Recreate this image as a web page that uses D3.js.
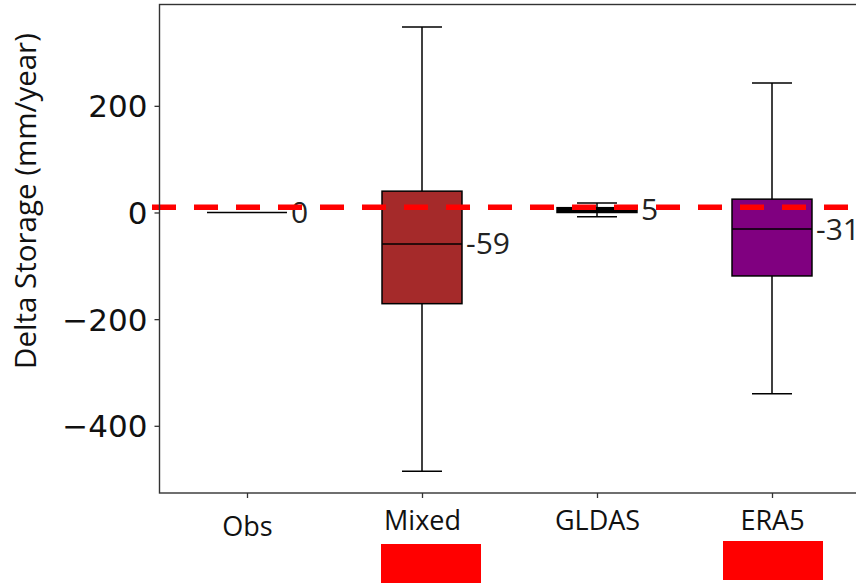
<!DOCTYPE html>
<html>
<head>
<meta charset="utf-8">
<script src="https://cdn.jsdelivr.net/npm/d3@7"></script>
<style>
  html, body { margin: 0; padding: 0; background: #fff; overflow: hidden; }
  svg { display: block; }
</style>
</head>
<body>
<svg id="chart" width="856" height="584"></svg>
<script>
// ---- data ----
const categories   = ["Obs", "Mixed", "GLDAS", "ERA5"];
const whiskerLow   = [0, -485, -8, -340];
const q1           = [0, -171, 0, -119];
const median       = [0, -59, 5, -31];
const q3           = [0, 40, 9, 25];
const whiskerHigh  = [0, 348, 18, 243];
const medianLabels = ["0", "-59", "5", "-31"];
const boxColors    = ["#ffffff", "#a52a2a", "#000000", "#800080"];
const yTicks       = [-400, -200, 0, 200];
const refLineValue = 10;
const yLabel       = "Delta Storage (mm/year)";
const maskedCats   = ["Mixed", "ERA5"];

// ---- layout ----
const svg = d3.select("#chart");
const plot = { left: 159.5, right: 859.5, top: 4.5, bottom: 493 };

const x = d3.scaleLinear().domain([0.5, 4.5]).range([plot.left, plot.right]);
const y = d3.scaleLinear().domain([-526, 390]).range([plot.bottom, plot.top]);
const boxW = 0.457;     // in x-data units
const capW = boxW / 2;

const g = svg.append("g");

// boxes
categories.forEach((c, i) => {
  const cx = x(i + 1);
  const x0 = x(i + 1 - boxW / 2), x1 = x(i + 1 + boxW / 2);
  const c0 = x(i + 1 - capW / 2), c1 = x(i + 1 + capW / 2);
  g.append("line").attr("x1", cx).attr("x2", cx)
    .attr("y1", y(q3[i])).attr("y2", y(whiskerHigh[i]))
    .attr("stroke", "#000").attr("stroke-width", 1.5);
  g.append("line").attr("x1", cx).attr("x2", cx)
    .attr("y1", y(q1[i])).attr("y2", y(whiskerLow[i]))
    .attr("stroke", "#000").attr("stroke-width", 1.5);
  if (whiskerHigh[i] !== q3[i]) {
    g.append("line").attr("x1", c0).attr("x2", c1)
      .attr("y1", y(whiskerHigh[i])).attr("y2", y(whiskerHigh[i]))
      .attr("stroke", "#000").attr("stroke-width", 1.5);
  }
  if (whiskerLow[i] !== q1[i]) {
    g.append("line").attr("x1", c0).attr("x2", c1)
      .attr("y1", y(whiskerLow[i])).attr("y2", y(whiskerLow[i]))
      .attr("stroke", "#000").attr("stroke-width", 1.5);
  }
  if (q3[i] !== q1[i]) {
    g.append("rect")
      .attr("x", x0).attr("y", y(q3[i]))
      .attr("width", x1 - x0).attr("height", y(q1[i]) - y(q3[i]))
      .attr("fill", boxColors[i]).attr("stroke", "#000").attr("stroke-width", 1.5);
  }
  g.append("line").attr("x1", x0).attr("x2", x1)
    .attr("y1", y(median[i])).attr("y2", y(median[i]))
    .attr("stroke", "#000").attr("stroke-width", 1.5);
  g.append("text")
    .attr("x", x1 + 4).attr("y", y(median[i]) + 10.5)
    .attr("font-family", "'Open Sans', sans-serif")
    .attr("font-size", 30).attr("fill", "#222")
    .text(medianLabels[i]);
});

// reference dashed line
svg.append("line")
  .attr("x1", 152).attr("x2", 856)
  .attr("y1", y(refLineValue)).attr("y2", y(refLineValue))
  .attr("stroke", "#ff0000").attr("stroke-width", 5.5)
  .attr("stroke-dasharray", "24,18");

// frame (spines)
svg.append("rect")
  .attr("x", plot.left).attr("y", plot.top)
  .attr("width", plot.right - plot.left).attr("height", plot.bottom - plot.top)
  .attr("fill", "none").attr("stroke", "#333").attr("stroke-width", 1.4);

// y axis
const yAxis = d3.axisLeft(y).tickValues(yTicks).tickSize(5).tickPadding(7)
  .tickFormat(d => (d < 0 ? "\u2212" + Math.abs(d) : String(d)));
const ya = svg.append("g").attr("transform", `translate(${plot.left},0)`).call(yAxis);
ya.select(".domain").remove();
ya.selectAll("line").attr("stroke", "#333").attr("stroke-width", 1.3);
ya.selectAll("text").attr("font-family", "'DejaVu Sans', sans-serif")
  .attr("font-size", 31).attr("fill", "#111").attr("dy", "0.36em");

// x axis
const xAxis = d3.axisBottom(x).tickValues(categories.map((c, i) => i + 1))
  .tickSize(5).tickPadding(12).tickFormat((d, i) => categories[i]);
const xa = svg.append("g").attr("transform", `translate(0,${plot.bottom})`).call(xAxis);
xa.select(".domain").remove();
xa.selectAll("line").attr("stroke", "#333").attr("stroke-width", 1.3);
xa.selectAll("text").attr("font-family", "'Open Sans', sans-serif")
  .attr("font-size", 27).attr("fill", "#111")
  .attr("dy", (d, i) => i === 0 ? "0.95em" : "0.75em");

// y label
svg.append("text")
  .attr("transform", `translate(36,201) rotate(-90)`)
  .attr("text-anchor", "middle")
  .attr("font-family", "'Open Sans', sans-serif")
  .attr("font-size", 29.5).attr("fill", "#111")
  .text(yLabel);

// masking rectangles under some tick labels
maskedCats.forEach(c => {
  const i = categories.indexOf(c);
  const cx = x(i + 1);
  const dx = c === "Mixed" ? 9 : 1;
  const top = c === "Mixed" ? 544 : 541;
  svg.append("rect")
    .attr("x", cx - 50 + dx).attr("y", top)
    .attr("width", 100).attr("height", 39)
    .attr("fill", "#ff0000");
});
</script>
</body>
</html>
